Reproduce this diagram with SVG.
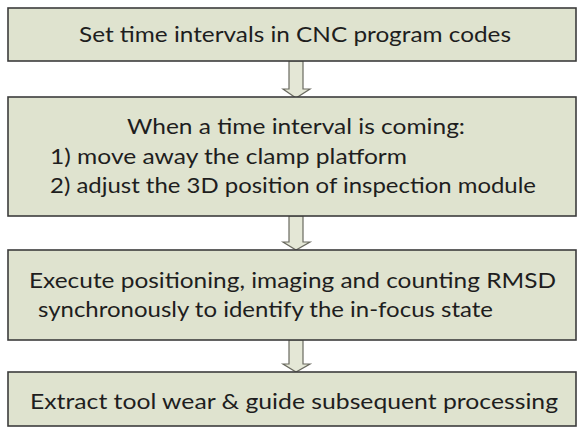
<svg xmlns="http://www.w3.org/2000/svg" width="579" height="427" viewBox="0 0 579 427">
<style>
.box{fill:#dfe3cf;stroke:#3c3c3c;stroke-width:1.6}
.t{font-family:Lato,"Open Sans","Liberation Sans",sans-serif;font-size:22px;fill:#1e1e1e}
.arr{fill:#e4e7d6;stroke:#6a6a60;stroke-width:1.2;stroke-linejoin:miter}
</style>
<rect width="579" height="427" fill="#ffffff"/>
<g id="connectors">
<path class="arr" d="M289,61 V89 H283 L296,98 L310,89 H303 V61 Z"/>
<path class="arr" d="M289,216 V242 H283 L296,250 L310,242 H303 V216 Z"/>
<path class="arr" d="M289,340 V364 H283 L296,372 L310,364 H303 V340 Z"/>
</g>
<g id="node1">
<rect class="box" x="8" y="8" width="568" height="53"/>
<text class="t" x="79" y="42" textLength="432" lengthAdjust="spacingAndGlyphs">Set time intervals in CNC program codes</text>
</g>
<g id="node2">
<rect class="box" x="8" y="97" width="568" height="119"/>
<text class="t" x="127" y="134" textLength="338" lengthAdjust="spacingAndGlyphs">When a time interval is coming:</text>
<text class="t" x="50" y="164" textLength="357" lengthAdjust="spacingAndGlyphs">1) move away the clamp platform</text>
<text class="t" x="50" y="193" textLength="486" lengthAdjust="spacingAndGlyphs">2) adjust the 3D position of inspection module</text>
</g>
<g id="node3">
<rect class="box" x="8" y="250" width="568" height="90"/>
<text class="t" x="29" y="288" textLength="527" lengthAdjust="spacingAndGlyphs">Execute positioning, imaging and counting RMSD</text>
<text class="t" x="38" y="317" textLength="455" lengthAdjust="spacingAndGlyphs">synchronously to identify the in-focus state</text>
</g>
<g id="node4">
<rect class="box" x="8" y="372" width="568" height="54"/>
<text class="t" x="30" y="409" textLength="528" lengthAdjust="spacingAndGlyphs">Extract tool wear &amp; guide subsequent processing</text>
</g>
</svg>
